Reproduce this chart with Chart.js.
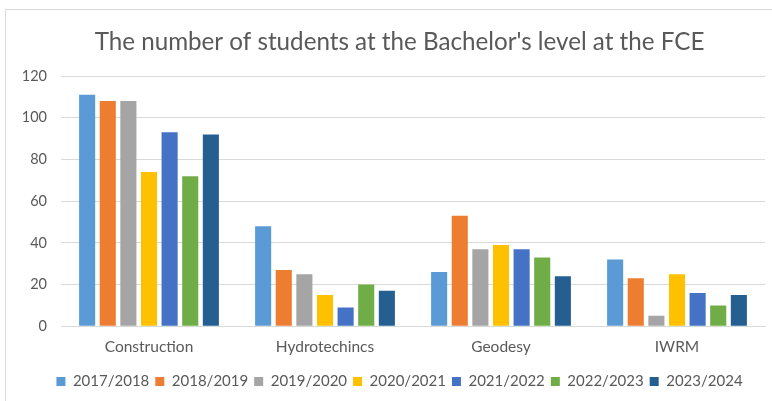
<!DOCTYPE html>
<html>
<head>
<meta charset="utf-8">
<script src="https://cdn.jsdelivr.net/npm/chart.js@4"></script>
<style>
  html, body { margin: 0; padding: 0; background: #fff; }
  #wrap { position: relative; width: 772px; height: 401px; overflow: hidden; }
  #frame { position: absolute; left: 5px; top: 9px; width: 800px; height: 420px; border: 1px solid #d9d9d9; box-sizing: border-box; }
  #myChart { position: absolute; left: 0; top: 0; }
</style>
</head>
<body>
<div id="wrap">
  <div id="frame"></div>
  <canvas id="myChart" width="772" height="401"></canvas>
</div>
<script>
// Data
const programmes = ['Construction', 'Hydrotechincs', 'Geodesy', 'IWRM'];
const years = ['2017/2018', '2018/2019', '2019/2020', '2020/2021', '2021/2022', '2022/2023', '2023/2024'];
const y2017 = [111, 48, 26, 32];
const y2018 = [108, 27, 53, 23];
const y2019 = [108, 25, 37, 5];
const y2020 = [74, 15, 39, 25];
const y2021 = [93, 9, 37, 16];
const y2022 = [72, 20, 33, 10];
const y2023 = [92, 17, 24, 15];
const yTicks = [0, 20, 40, 60, 80, 100, 120];

const colours = ['#5b9bd5', '#ed7d31', '#a5a5a5', '#ffc000', '#4472c4', '#70ad47', '#255e91'];
const seriesValues = [y2017, y2018, y2019, y2020, y2021, y2022, y2023];

const textColour = '#595959';
const fontFamily = 'Lato, "Open Sans", sans-serif';
const yFontSize = 14.5;

const ctx = document.getElementById('myChart').getContext('2d');

// y labels are mirrored (so they are not clipped to the narrow axis box)
// and pushed back left of the plot with a negative padding
ctx.font = yFontSize + 'px ' + fontFamily;
const widestY = ctx.measureText('120').width;

const myChart = new Chart(ctx, {
    type: 'bar',
    data: {
        labels: programmes,
        datasets: years.map((year, i) => ({
            label: year,
            data: seriesValues[i],
            backgroundColor: colours[i],
            borderWidth: 0,
            categoryPercentage: 0.82,
            barPercentage: 0.78
        }))
    },
    options: {
        responsive: false,
        animation: false,
        layout: {
            // left/right differ so title and legend sit centred like the original
            padding: { left: 34, right: 7, top: 0, bottom: 2 }
        },
        scales: {
            x: {
                grid: { display: false, drawTicks: false },
                border: { display: true, color: '#d9d9d9' },
                ticks: { color: textColour, font: { family: fontFamily, size: 15.5, lineHeight: 1.4 }, padding: 10 }
            },
            y: {
                min: 0,
                max: 120,
                afterBuildTicks: (axis) => { axis.ticks = yTicks.map(v => ({ value: v })); },
                afterFit: (axis) => { axis.width = 27; },
                grid: { color: '#d9d9d9', drawTicks: false },
                border: { display: false },
                ticks: {
                    color: textColour,
                    font: { family: fontFamily, size: yFontSize },
                    mirror: true,
                    crossAlign: 'far',
                    padding: -14 - widestY
                }
            }
        },
        plugins: {
            title: {
                display: true,
                text: "The number of students at the Bachelor's level at the FCE",
                color: textColour,
                font: { family: fontFamily, size: 24.2, weight: 'normal' },
                padding: { top: 28, bottom: 19 }
            },
            legend: {
                position: 'bottom',
                labels: {
                    color: textColour,
                    font: { family: fontFamily, size: 15 },
                    boxWidth: 9,
                    boxHeight: 9,
                    padding: 6
                }
            },
            tooltip: { enabled: false }
        }
    }
});
</script>
</body>
</html>
